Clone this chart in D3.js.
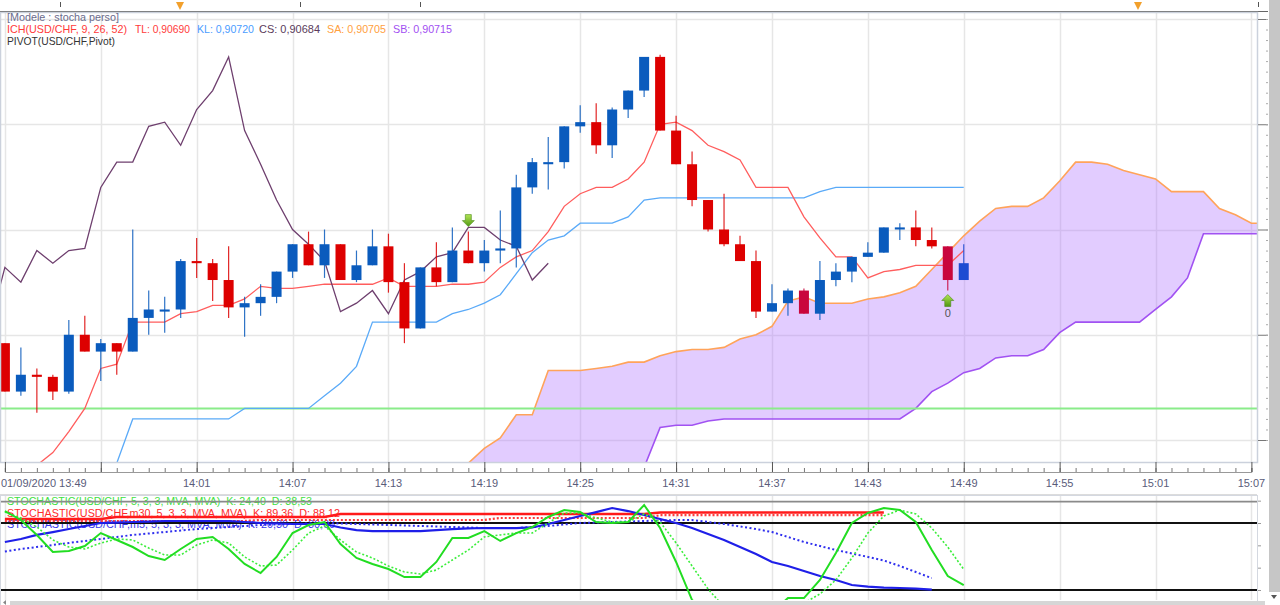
<!DOCTYPE html>
<html>
<head>
<meta charset="utf-8">
<script src="https://cdn.jsdelivr.net/npm/d3@7/dist/d3.min.js"></script>
<style>
html,body{margin:0;padding:0;background:#fff;overflow:hidden;}
svg{display:block;}
text{white-space:pre;}
</style>
</head>
<body>
<svg id="chart" width="1280" height="605"></svg>
<script>
// ================= DATA =================
const startTime = "2020-09-01 13:49";
const endTime   = "2020-09-01 15:07";

// 1-minute candles USD/CHF, 13:49 .. 14:49
const opens = [0.90646,0.90623,0.90631,0.90630,0.90623,0.90650,0.90642,0.90646,0.90642,0.90658,
0.90661,0.90662,0.90685,0.90684,0.90676,0.90663,0.90665,0.90668,0.90680,0.90693,
0.90683,0.90693,0.90676,0.90683,0.90692,0.90675,0.90653,0.90682,0.90675,0.90690,
0.90684,0.90690,0.90691,0.90720,0.90731,0.90732,0.90749,0.90751,0.90740,0.90757,
0.90766,0.90782,0.90747,0.90731,0.90714,0.90700,0.90693,0.90685,0.90661,0.90665,
0.90671,0.90660,0.90676,0.90680,0.90687,0.90689,0.90700,0.90701,0.90695,0.90692,
0.90676];
const highs = [0.90646,0.90644,0.90634,0.90631,0.90657,0.90659,0.90648,0.90646,0.90700,0.90671,
0.90668,0.90686,0.90696,0.90686,0.90692,0.90668,0.90674,0.90680,0.90693,0.90699,
0.90700,0.90693,0.90690,0.90700,0.90698,0.90684,0.90682,0.90694,0.90701,0.90699,
0.90695,0.90709,0.90726,0.90734,0.90744,0.90749,0.90759,0.90760,0.90758,0.90766,
0.90782,0.90783,0.90754,0.90737,0.90714,0.90717,0.90697,0.90690,0.90674,0.90672,
0.90672,0.90685,0.90684,0.90687,0.90694,0.90701,0.90703,0.90709,0.90701,0.90692,
0.90693];
const lows = [0.90623,0.90621,0.90613,0.90619,0.90622,0.90642,0.90628,0.90631,0.90642,0.90650,
0.90651,0.90658,0.90677,0.90666,0.90658,0.90649,0.90659,0.90665,0.90677,0.90683,
0.90677,0.90676,0.90675,0.90683,0.90670,0.90646,0.90653,0.90673,0.90675,0.90684,
0.90680,0.90684,0.90682,0.90717,0.90719,0.90729,0.90746,0.90736,0.90734,0.90753,
0.90763,0.90747,0.90731,0.90711,0.90699,0.90692,0.90685,0.90658,0.90661,0.90659,
0.90660,0.90657,0.90673,0.90675,0.90687,0.90689,0.90695,0.90692,0.90691,0.90671,
0.90676];
const closes = [0.90623,0.90631,0.90630,0.90623,0.90650,0.90642,0.90646,0.90642,0.90658,0.90662,
0.90662,0.90685,0.90684,0.90676,0.90663,0.90665,0.90668,0.90680,0.90693,0.90683,
0.90693,0.90676,0.90683,0.90692,0.90675,0.90653,0.90682,0.90675,0.90690,0.90684,
0.90690,0.90691,0.90720,0.90732,0.90732,0.90749,0.90751,0.90740,0.90757,0.90766,
0.90782,0.90747,0.90731,0.90714,0.90700,0.90693,0.90685,0.90661,0.90665,0.90671,
0.90660,0.90676,0.90680,0.90687,0.90689,0.90701,0.90701,0.90695,0.90692,0.90676,
0.90684];
const highlightBars = [50, 59, 60];

// Ichimoku (9, 26, 52)
const tenkan = [null,null,0.90588,0.90594,0.90604,0.90615,0.90634,0.90636,0.90656,0.90656,
0.90656,0.90660,0.90661,0.90664,0.90664,0.90667,0.90673,0.90672,0.90672,0.90673,
0.90674,0.90674,0.90674,0.90674,0.90677,0.90673,0.90673,0.90673,0.90674,0.90674,
0.90675,0.90682,0.90687,0.90690,0.90699,0.90711,0.90717,0.90720,0.90720,0.90724,
0.90732,0.90750,0.90751,0.90747,0.90740,0.90737,0.90733,0.90720,0.90720,0.90720,
0.90706,0.90696,0.90687,0.90687,0.90677,0.90680,0.90681,0.90683,0.90683,0.90683,
0.90690];
const kijun = [null,null,null,null,null,null,null,0.90589,0.90610,0.90610,
0.90610,0.90610,0.90610,0.90610,0.90610,0.90615,0.90615,0.90615,0.90615,0.90615,
0.90621,0.90627,0.90635,0.90656,0.90656,0.90656,0.90656,0.90656,0.90660,0.90662,
0.90665,0.90669,0.90679,0.90689,0.90695,0.90697,0.90703,0.90703,0.90703,0.90706,
0.90714,0.90715,0.90715,0.90715,0.90715,0.90715,0.90715,0.90715,0.90715,0.90715,
0.90715,0.90718,0.90720,0.90720,0.90720,0.90720,0.90720,0.90720,0.90720,0.90720,
0.90720];
const chikouStart = -1;
const chikou = [0.90653,0.90682,0.90675,0.90690,0.90684,0.90690,0.90691,0.90720,0.90732,0.90732,
0.90749,0.90751,0.90740,0.90757,0.90766,0.90782,0.90747,0.90731,0.90714,0.90700,
0.90693,0.90685,0.90661,0.90665,0.90671,0.90660,0.90676,0.90680,0.90687,0.90689,
0.90701,0.90701,0.90695,0.90692,0.90676,0.90684];
const senkouStart = 29;
const senkouA = [0.90589,0.90596,0.90601,0.90612,0.90612,0.90633,0.90633,0.90633,0.90634,0.90635,
0.90637,0.90637,0.90640,0.90642,0.90643,0.90643,0.90644,0.90648,0.90650,0.90654,
0.90666,0.90668,0.90665,0.90665,0.90665,0.90667,0.90668,0.90670,0.90673,0.90681,
0.90689,0.90697,0.90704,0.90710,0.90711,0.90711,0.90715,0.90723,0.90732,0.90732,
0.90731,0.90728,0.90726,0.90724,0.90718,0.90718,0.90718,0.90710,0.90707,0.90703,
0.90703];
const senkouB = [0.90576,0.90576,0.90576,0.90576,0.90576,0.90576,0.90576,0.90576,0.90576,0.90576,
0.90576,0.90587,0.90606,0.90607,0.90607,0.90609,0.90610,0.90610,0.90610,0.90610,
0.90610,0.90610,0.90610,0.90610,0.90610,0.90610,0.90610,0.90610,0.90615,0.90623,
0.90627,0.90632,0.90634,0.90639,0.90640,0.90640,0.90643,0.90651,0.90656,0.90656,
0.90656,0.90656,0.90656,0.90662,0.90668,0.90677,0.90698,0.90698,0.90698,0.90698,
0.90698];
const legendSA = 0.90705;
const legendSB = 0.90715;
const pivot = 0.90615;

// signals
const signalBars = [29, 59];
const signalDirs = ["down", "up"];
const signalLabels = ["", "0"];

// axes
const priceTicks = [0.9060, 0.9065, 0.9070, 0.9075, 0.9080];
const timeLabels = ["01/09/2020 13:49","","14:01","14:07","14:13","14:19","14:25","14:31","14:37","14:43","14:49","14:55","15:01","15:07"];

// Stochastics
const stochK = [90.7,82.7,69.3,54.0,54.9,59.4,71.0,64.8,58.5,50.4,
46.9,56.7,65.7,67.5,56.7,43.3,35.2,49.6,71.0,78.2,
80.9,61.2,48.7,43.3,38.8,31.6,31.6,45.1,66.6,66.6,
72.8,63.9,71.0,76.4,85.4,91.6,89.8,80.9,80.0,80.9,
96.1,75.5,45.1,11.0,0,0,0,0,0,12.8,
12.8,29.0,53.1,80.0,89.0,93.4,91.6,80.9,55.8,32.5,
24.4];
const stochD = [89.8,84.5,76.4,64.8,58.5,56.7,62.1,65.7,64.8,57.6,
51.3,51.3,60.3,64.8,62.1,49.6,41.5,42.4,55.8,71.0,
77.3,64.8,54.0,48.7,41.5,36.1,34.3,37.9,46.9,55.8,
67.5,69.3,71.0,71.0,80.0,89.0,89.0,84.5,80.9,80.9,
88.1,80.9,62.1,41.5,20.9,4.8,0,0,0,3.9,
8.4,16.4,29.0,48.7,71.0,86.3,91.6,88.1,75.5,58.5,
38.5];
const stochM5K = [63.0,65.7,69.3,71.9,74.6,77.3,80.0,80.4,80.9,81.3,
81.8,81.8,81.8,81.8,81.8,80.9,80.0,79.6,79.1,79.1,
79.1,76.0,73.7,72.8,72.8,72.8,72.8,73.7,74.6,75.1,
75.5,75.5,75.5,76.0,79.1,82.7,86.3,89.8,93.4,90.7,
87.2,83.6,80.0,75.5,70.1,64.8,58.5,52.2,45.1,41.5,
37.0,32.5,29.0,24.5,23.1,22.2,21.8,21.3,20.3];
const stochM5D = [54.5,56.7,58.5,60.3,62.1,63.9,65.7,67.5,69.3,70.6,
71.9,73.3,74.6,75.5,76.4,77.3,78.2,78.7,79.1,79.6,
80.0,79.6,79.1,78.7,78.2,77.8,77.3,76.9,76.4,76.0,
75.5,75.5,75.5,76.4,77.3,78.7,80.0,80.4,80.9,81.3,
81.8,82.2,82.7,82.7,80.9,79.1,76.9,74.6,71.9,67.5,
63.0,59.4,55.8,52.7,49.6,46.4,41.5,36.1,30.6];
const stochM30K = [83.6,83.6,83.6,83.6,83.6,83.6,83.6,85.4,85.4,85.4,
85.4,85.4,85.4,85.4,85.4,85.4,85.4,85.4,85.4,85.4,
85.4,88.1,88.1,88.1,88.1,88.1,88.1,88.1,88.1,88.1,
88.1,88.1,88.1,88.1,88.1,88.1,88.1,88.1,88.1,88.1,
88.1,89.4,89.4,89.4,89.4,89.4,89.4,89.4,89.4,89.4,
89.4,89.4,89.4,89.4,89.4,89.4];
const stochM30D = [81.8,81.8,81.8,81.8,81.8,81.8,81.8,81.8,81.8,81.8,
81.8,81.8,81.8,81.8,81.8,81.8,82.7,82.7,82.7,82.7,
82.7,82.7,82.7,82.7,82.7,82.7,82.7,82.7,82.7,82.7,
82.7,84.5,84.5,84.5,84.5,84.5,84.5,84.5,84.5,84.5,
84.5,87.0,87.0,87.0,87.0,87.0,87.0,87.0,87.0,87.0,
87.0,87.0,87.0,87.0,87.0,87.0];
const stochLevels = [20, 80];
const stochTop = 100;
const stochLegend = [
  "STOCHASTIC(USD/CHF, 5, 3, 3, MVA, MVA)  K: 24,40  D: 38,53",
  "STOCHASTIC(USD/CHF,m30, 5, 3, 3, MVA, MVA)  K: 89,36  D: 88,12",
  "STOCHASTIC(USD/CHF,m5, 5, 3, 3, MVA, MVA)  K: 20,30  D: 30,60"
];

// ================= DRAW =================
const FONT = "'Liberation Sans', Arial, sans-serif";
const svg = d3.select("#chart");
const parseT = d3.timeParse("%Y-%m-%d %H:%M");
const t0 = parseT(startTime), t1 = parseT(endTime);
const x = d3.scaleTime().domain([t0, t1]).range([4.9, 1251.4]);
const X = m => x(d3.timeMinute.offset(t0, m));
const y = d3.scaleLinear().domain([0.9060, 0.9080]).range([440, 19]);
const ys = d3.scaleLinear().domain([20, 80]).range([590, 523]);
const PR = 1257, PT = 12, PB = 462, ST = 495, SBot = 600;
const fmt = v => d3.format(".5f")(v).replace(".", ",");

svg.append("rect").attr("width",1280).attr("height",605).attr("fill","#fff");

const defs = svg.append("defs");
defs.append("clipPath").attr("id","clipMain").append("rect")
  .attr("x",1).attr("y",PT+1).attr("width",PR-1).attr("height",PB-PT-1);
defs.append("clipPath").attr("id","clipStoch").append("rect")
  .attr("x",1).attr("y",ST+1).attr("width",PR-1).attr("height",SBot-ST-1);
const gg = defs.append("linearGradient").attr("id","grn").attr("x1",0).attr("y1",0).attr("x2",0).attr("y2",1);
gg.append("stop").attr("offset","0%").attr("stop-color","#b4e655");
gg.append("stop").attr("offset","100%").attr("stop-color","#4e9612");

// ---- top strip ----
svg.append("line").attr("x1",0).attr("x2",1268).attr("y1",11.5).attr("y2",11.5)
  .attr("stroke","#666").attr("stroke-width",1);
[60, 300, 420, 1258].forEach(px => {
  svg.append("line").attr("x1",px+0.5).attr("x2",px+0.5).attr("y1",2).attr("y2",7)
    .attr("stroke","#555").attr("stroke-width",1);
});
[180, 1138].forEach(px => {
  svg.append("path").attr("d",`M${px-4},2 L${px+4},2 L${px},10 Z`).attr("fill","#f2a02c");
});

// ---- main panel ----
const timeTicks = d3.timeMinute.range(t0, d3.timeMinute.offset(t1, 1), 6);
const main = svg.append("g");
const grid = main.append("g");
priceTicks.forEach(p => {
  grid.append("line").attr("x1",1).attr("x2",PR).attr("y1",Math.round(y(p))+0.5).attr("y2",Math.round(y(p))+0.5)
    .attr("stroke","#e6e6e6").attr("stroke-width",1.5);
});
timeTicks.forEach(t => {
  const px = Math.round(x(t)) + 0.5;
  grid.append("line").attr("x1",px).attr("x2",px).attr("y1",PT).attr("y2",PB).attr("stroke","#e6e6e6").attr("stroke-width",1.5);
  grid.append("line").attr("x1",px).attr("x2",px).attr("y1",ST).attr("y2",SBot).attr("stroke","#e6e6e6").attr("stroke-width",1.5);
});

const plot = main.append("g").attr("clip-path","url(#clipMain)");

// cloud
const cloud = senkouA.map((a, i) => ({m: senkouStart + i, a: a, b: senkouB[i]}));
plot.append("path").datum(cloud)
  .attr("d", d3.area().x(d => X(d.m)).y0(d => y(d.b)).y1(d => y(d.a)))
  .attr("fill","rgba(178,122,255,0.38)");
const lineGen = d3.line().defined(d => d.v != null).x(d => X(d.m)).y(d => y(d.v));
plot.append("path").datum(cloud.map(d => ({m:d.m, v:d.a}))).attr("d", lineGen)
  .attr("fill","none").attr("stroke","#ffa35a").attr("stroke-width",1.6);
plot.append("path").datum(cloud.map(d => ({m:d.m, v:d.b}))).attr("d", lineGen)
  .attr("fill","none").attr("stroke","#a152f2").attr("stroke-width",1.6);

// pivot
plot.append("line").attr("x1",1).attr("x2",PR).attr("y1",y(pivot)).attr("y2",y(pivot))
  .attr("stroke","#8aec8a").attr("stroke-width",2);

// kijun, tenkan, chikou
plot.append("path").datum(kijun.map((v, i) => ({m:i, v}))).attr("d", lineGen)
  .attr("fill","none").attr("stroke","#5aaaf8").attr("stroke-width",1.3);
plot.append("path").datum(tenkan.map((v, i) => ({m:i, v}))).attr("d", lineGen)
  .attr("fill","none").attr("stroke","#ff5d5d").attr("stroke-width",1.3);
plot.append("path").datum(chikou.map((v, i) => ({m: chikouStart + i, v}))).attr("d", lineGen)
  .attr("fill","none").attr("stroke","#6e3f6e").attr("stroke-width",1.3);

// candles
const candles = opens.map((o, i) => ({m:i, o, h:highs[i], l:lows[i], c:closes[i]}));
const cg = plot.append("g");
candles.forEach(d => {
  const bull = d.c >= d.o;
  const hl = highlightBars.includes(d.m);
  const col = bull ? (hl ? "#1d4bd2" : "#0a5bbd") : (hl ? "#c9063c" : "#dd0000");
  const cx = X(d.m);
  cg.append("line").attr("x1",cx).attr("x2",cx).attr("y1",y(d.h)).attr("y2",y(d.l))
    .attr("stroke",col).attr("stroke-width",1.2).attr("opacity",0.85);
  const top = y(Math.max(d.o, d.c)), bot = y(Math.min(d.o, d.c));
  const h = Math.max(bot - top, 2);
  cg.append("rect").attr("x",cx-5).attr("y",top - (h > bot-top ? (h-(bot-top))/2 : 0))
    .attr("width",10).attr("height",h).attr("fill",col);
});

// signals
signalBars.forEach((m, i) => {
  const cx = X(m);
  const g = plot.append("g");
  if (signalDirs[i] === "down") {
    const tip = y(highs[m]) - 5;
    g.append("path").attr("d",`M${cx-3},${tip-12} L${cx+3},${tip-12} L${cx+3},${tip-6} L${cx+6},${tip-6} L${cx},${tip} L${cx-6},${tip-6} L${cx-3},${tip-6} Z`)
      .attr("fill","url(#grn)").attr("stroke","#4a8a1a").attr("stroke-width",0.6);
  } else {
    const tip = y(lows[m]) + 4;
    g.append("path").attr("d",`M${cx-3},${tip+12} L${cx+3},${tip+12} L${cx+3},${tip+6} L${cx+6},${tip+6} L${cx},${tip} L${cx-6},${tip+6} L${cx-3},${tip+6} Z`)
      .attr("fill","url(#grn)").attr("stroke","#4a8a1a").attr("stroke-width",0.6);
    g.append("text").attr("x",cx).attr("y",tip+22).attr("text-anchor","middle")
      .attr("font-family",FONT).attr("font-size",11).attr("fill","#555").text(signalLabels[i]);
  }
});

// main frame
svg.append("rect").attr("x",0.5).attr("y",PT+0.5).attr("width",PR).attr("height",PB-PT)
  .attr("fill","none").attr("stroke","#cbd1dc").attr("stroke-width",1.5);

// legend
const leg = svg.append("g").attr("font-family",FONT).attr("font-size",11);
function lt(txt, lx, ly, w, col){
  leg.append("text").attr("x",lx).attr("y",ly).attr("fill",col)
    .attr("textLength",w).attr("lengthAdjust","spacingAndGlyphs").text(txt);
}
lt("[Modele : stocha perso]", 7, 21, 112, "#6a6c8c");
lt("ICH(USD/CHF, 9, 26, 52)", 7, 33, 120, "#ff3a3a");
lt("TL: " + fmt(tenkan[tenkan.length-1]), 135, 33, 55, "#ff3a3a");
lt("KL: " + fmt(kijun[kijun.length-1]), 197, 33, 57, "#4a9cff");
lt("CS: " + fmt(closes[closes.length-1]), 259, 33, 61, "#5b3b5b");
lt("SA: " + fmt(legendSA), 327, 33, 59, "#ffa040");
lt("SB: " + fmt(legendSB), 393, 33, 59, "#a24ff2");
lt("PIVOT(USD/CHF,Pivot)", 7, 45, 108, "#333");

// right price axis ticks
const rAx = svg.append("g").attr("transform",`translate(${PR+1},0)`)
  .call(d3.axisRight(y).tickValues(priceTicks).tickSize(10).tickFormat(""));
rAx.select(".domain").remove();
rAx.selectAll("line").attr("stroke","#777");
const minorP = d3.range(0.90600, 0.908001, 0.00005);
const rAx2 = svg.append("g").attr("transform",`translate(1268,0)`)
  .call(d3.axisLeft(y).tickValues(minorP).tickSize(2).tickFormat(""));
rAx2.select(".domain").remove();
rAx2.selectAll("line").attr("stroke","#aaa");

// ---- time axis ----
const axMinor = svg.append("g").attr("transform","translate(0,472)")
  .call(d3.axisTop(x).ticks(d3.timeMinute.every(1)).tickSize(4).tickFormat(""));
axMinor.select(".domain").attr("stroke","#999");
axMinor.selectAll("line").attr("stroke","#777");
const axMajor = svg.append("g").attr("transform","translate(0,472)")
  .call(d3.axisTop(x).tickValues(timeTicks).tickSize(10).tickFormat(""));
axMajor.select(".domain").remove();
axMajor.selectAll("line").attr("stroke","#555");
timeTicks.forEach((t, i) => {
  if (!timeLabels[i]) return;
  svg.append("text").attr("x", i === 0 ? 1 : x(t)).attr("y",487)
    .attr("text-anchor", i === 0 ? "start" : "middle")
    .attr("font-family",FONT).attr("font-size",11).attr("fill","#5a5c7a").text(timeLabels[i]);
});

// ---- stochastic panel ----
svg.append("line").attr("x1",0).attr("x2",PR).attr("y1",ST).attr("y2",ST).attr("stroke","#dcdcdc").attr("stroke-width",2);
const sleg = svg.append("g").attr("font-family",FONT).attr("font-size",10);
const slegCols = ["#3ee03e","#ff2a2a","#3a3aee"];
const slegW = [305, 333, 328];
const slegY = [505, 517, 528];
stochLegend.forEach((t, i) => {
  sleg.append("text").attr("x",7).attr("y",slegY[i]).attr("fill",slegCols[i])
    .attr("xml:space","preserve")
    .attr("textLength",slegW[i]).attr("lengthAdjust","spacingAndGlyphs").text(t);
});
svg.append("line").attr("x1",0).attr("x2",PR).attr("y1",ys(stochTop)+1).attr("y2",ys(stochTop)+1)
  .attr("stroke","#8a8a8a").attr("stroke-width",1.6);
stochLevels.forEach(v => {
  svg.append("line").attr("x1",0).attr("x2",PR).attr("y1",ys(v)).attr("y2",ys(v))
    .attr("stroke","#111").attr("stroke-width",2);
});
const sp = svg.append("g").attr("clip-path","url(#clipStoch)");
const sLine = d3.line().x((d, i) => X(i)).y(d => ys(d));
function sdraw(arr, col, w, dash){
  const p = sp.append("path").datum(arr).attr("d", sLine).attr("fill","none")
    .attr("stroke",col).attr("stroke-width",w);
  if (dash) p.attr("stroke-dasharray",dash);
}
sdraw(stochM30K, "#ff1a1a", 2.6);
sdraw(stochM30D, "#ff3a3a", 2.2, "2,2");
sdraw(stochM5D, "#2f2fee", 2, "2,2.5");
sdraw(stochM5K, "#1f1fe8", 2.2);
sdraw(stochD, "#3cee3c", 1.6, "2,2");
sdraw(stochK, "#22dd22", 2);

svg.append("rect").attr("x",0.5).attr("y",ST+0.5).attr("width",PR).attr("height",SBot-ST+6)
  .attr("fill","none").attr("stroke","#d4d8e0").attr("stroke-width",1);
const sAx = svg.append("g").attr("transform",`translate(${PR+1},0)`)
  .call(d3.axisRight(ys).tickValues([20,40,60,80,100]).tickSize(3).tickFormat(""));
sAx.select(".domain").remove();
sAx.selectAll("line").attr("stroke","#999");

// ---- scrollbars ----
svg.append("rect").attr("x",1269).attr("y",0).attr("width",11).attr("height",592).attr("fill","#c6c6c6");
svg.append("path").attr("d","M1271,595 L1277,595 L1274,599 Z").attr("fill","#555");
svg.append("rect").attr("x",10).attr("y",601).attr("width",1255).attr("height",4).attr("fill","#d6d6d6");
svg.append("path").attr("d","M6,600 L6,605 L3,602.5 Z").attr("fill","#888");
</script>
</body>
</html>
